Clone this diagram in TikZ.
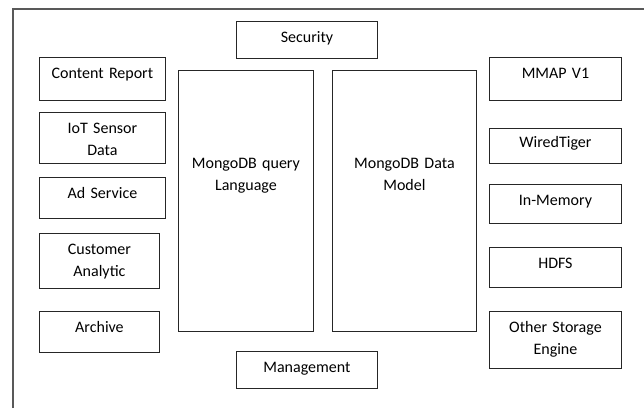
\documentclass[tikz,border=0pt]{standalone}
\usepackage{fontspec}
\setmainfont{Carlito}
\begin{document}
\begin{tikzpicture}[x=1pt,y=-1pt,
  bx/.style={draw=black!85, line width=0.9pt, anchor=north west, inner sep=0pt,
    align=center, text height=21pt, font=\fontsize{16}{22}\selectfont, text=black}]
\useasboundingbox (0,0) rectangle (644,408);
% frame (only top and left edges are visible)
\draw[black!65, line width=1.2pt] (13,408) -- (13,9) -- (644,9);
% top / bottom
\node[bx, text width=141pt, text depth=16pt] (sec) at (236,21) {Security};
\node[bx, text width=141pt, text depth=16pt] (mgmt) at (236,351) {Management};
% left column
\node[bx, text width=126pt, text depth=22pt] (cr) at (39,57) {Content Report};
\node[bx, text width=126pt, text depth=30pt] (iot) at (39,112) {IoT Sensor\\Data};
\node[bx, text width=126pt, text depth=20pt] (ad) at (39,177) {Ad Service};
\node[bx, text width=120pt, text depth=34pt] (ca) at (39,233) {Customer\\Analytic};
\node[bx, text width=120pt, text depth=20pt] (arc) at (39,311) {Archive};
% centre
\node[bx, text width=135pt, text height=98pt, text depth=163pt] (ql) at (178,70) {MongoDB query\\Language};
\node[bx, text width=144pt, text height=98pt, text depth=163pt] (dm) at (332,70) {MongoDB Data\\Model};
% right column
\node[bx, text width=132pt, text depth=22pt] (mmap) at (489,57) {MMAP V1};
\node[bx, text width=132pt, text height=19pt, text depth=16pt] (wt) at (489,128) {WiredTiger};
\node[bx, text width=132pt, text depth=18pt] (im) at (489,184) {In-Memory};
\node[bx, text width=132pt, text depth=19pt] (hdfs) at (489,247) {HDFS};
\node[bx, text width=132pt, text depth=36pt] (ose) at (489,311) {Other Storage\\Engine};
\end{tikzpicture}
\end{document}
